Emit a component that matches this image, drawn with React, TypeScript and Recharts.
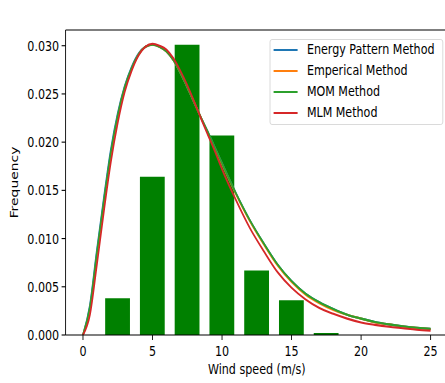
import React from 'react';
import { ComposedChart, Bar, Line, XAxis, YAxis, Legend, ReferenceLine } from 'recharts';

// ---- data ----
const binCenters = [2.5, 5, 7.5, 10, 12.5, 15, 17.5];
const binFreq = [0.0038, 0.0164, 0.0301, 0.0207, 0.0067, 0.0036, 0.0002];

const curveX = [0, 0.5, 1, 1.5, 2, 2.5, 3, 3.5, 4, 4.5, 5, 5.5, 6, 6.5, 7, 7.5, 8, 8.5, 9, 9.5, 10, 11, 12, 13, 14, 15, 16, 17, 18, 19, 20, 21, 22, 23, 24, 25];

const energyPattern = [0, 0.0031, 0.0088, 0.0142, 0.0192, 0.023, 0.0258, 0.0278, 0.0292, 0.0299, 0.0301, 0.0299, 0.0294, 0.0285, 0.0272, 0.0257, 0.0241, 0.0225, 0.021, 0.0194, 0.0178, 0.0147, 0.0119, 0.0095, 0.0073, 0.0056, 0.0043, 0.0034, 0.0027, 0.0021, 0.0017, 0.00135, 0.0011, 0.0009, 0.00075, 0.00063];
const empirical = [0, 0.0027, 0.0082, 0.0136, 0.0186, 0.0226, 0.0256, 0.0276, 0.0291, 0.0299, 0.0301, 0.0299, 0.0294, 0.0285, 0.0272, 0.0257, 0.0241, 0.0225, 0.0209, 0.0193, 0.0177, 0.0146, 0.0118, 0.0094, 0.0072, 0.0055, 0.0042, 0.0033, 0.0026, 0.0021, 0.0017, 0.0013, 0.0011, 0.00088, 0.00074, 0.00062];
const mom = [0, 0.0029, 0.0085, 0.0139, 0.0189, 0.0228, 0.0257, 0.0277, 0.0291, 0.0299, 0.0301, 0.0299, 0.0294, 0.0285, 0.0272, 0.0257, 0.0241, 0.0225, 0.021, 0.0194, 0.0178, 0.0147, 0.0119, 0.0095, 0.0073, 0.0056, 0.0043, 0.0034, 0.0027, 0.0021, 0.0017, 0.00135, 0.0011, 0.0009, 0.00075, 0.00063];
const mlm = [0, 0.0021, 0.0073, 0.0128, 0.0179, 0.022, 0.0252, 0.0274, 0.029, 0.0299, 0.0302, 0.03, 0.0296, 0.0287, 0.0274, 0.0259, 0.0242, 0.0224, 0.0207, 0.019, 0.0172, 0.014, 0.0111, 0.0087, 0.0065, 0.0049, 0.0037, 0.0028, 0.0022, 0.0017, 0.0013, 0.00105, 0.00085, 0.0007, 0.00055, 0.00045];

const seriesNames = ['Energy Pattern Method', 'Emperical Method', 'MOM Method', 'MLM Method'];
const seriesColors = ['#1f77b4', '#ff7f0e', '#2ca02c', '#d62728'];
const seriesValues = [energyPattern, empirical, mom, mlm];

const xTicks = [0, 5, 10, 15, 20, 25];
const yTicks = [0, 0.005, 0.01, 0.015, 0.02, 0.025, 0.03];

const title = 'July 2010';
const xLabel = 'Wind speed (m/s)';
const yLabel = 'Frequency';

// ---- derived tables ----
const barData = binCenters.map((x, i) => ({ x, freq: binFreq[i] }));
const lineData = seriesValues.map((vals) => curveX.map((x, i) => ({ x, y: vals[i] })));

const FONT = '"DejaVu Sans", sans-serif';
const SQUISH = 0.8;
const W = 560;
const H = 383;
const Y_MAX = 0.03163;

const tickStyle = { fill: '#000', fontSize: 13.9, fontFamily: FONT };

const LegendBox = () => (
  <div
    style={{
      width: 217,
      height: 86,
      boxSizing: 'border-box',
      border: '1px solid #d6d6d6',
      borderRadius: 3,
      background: 'rgba(255,255,255,0.85)',
      position: 'relative',
      fontFamily: FONT,
      fontSize: 13.9,
      color: '#000',
    }}
  >
    {seriesNames.map((name, i) => (
      <div
        key={name}
        style={{ position: 'absolute', left: 0, top: 10 + i * 20.9 - 8, height: 16, width: '100%' }}
      >
        <div
          style={{
            position: 'absolute',
            left: 4.4,
            top: 7,
            width: 30,
            height: 2.1,
            background: seriesColors[i],
          }}
        />
        <div style={{ position: 'absolute', left: 46, top: -1, whiteSpace: 'nowrap', lineHeight: '17px' }}>{name}</div>
      </div>
    ))}
  </div>
);

export default function App() {
  return (
    <div
      style={{
        position: 'absolute',
        left: 0,
        top: 0,
        width: 445,
        height: 383,
        overflow: 'hidden',
        background: '#fff',
      }}
    >
      <div style={{ width: W, height: H, transform: `scaleX(${SQUISH})`, transformOrigin: '0 0' }}>
        <ComposedChart
          width={W}
          height={H}
          data={barData}
          margin={{ top: 30, right: 0, bottom: 8, left: 0 }}
          style={{ fontFamily: FONT }}
        >
          <XAxis
            xAxisId="bars"
            dataKey="x"
            type="number"
            domain={[-1.25, 26.25]}
            allowDataOverflow
            hide
          />
          <XAxis
            dataKey="x"
            type="number"
            domain={[-1.25, 26.25]}
            allowDataOverflow
            ticks={xTicks}
            tickFormatter={(v) => String(v)}
            height={40}
            tickSize={5}
            tickMargin={6}
            stroke="#000"
            strokeWidth={1.1}
            tick={tickStyle}
            label={{ value: xLabel, position: 'insideBottom', offset: 0.5, fill: '#000', fontSize: 13.9, fontFamily: FONT }}
          />
          <XAxis
            xAxisId="top"
            orientation="top"
            type="number"
            domain={[-1.25, 26.25]}
            allowDataOverflow
            height={0}
            tick={false}
            tickLine={false}
            axisLine={false}
            label={{ value: title, position: 'top', offset: 7, fill: '#000', fontSize: 16.7, fontFamily: FONT }}
          />
          <YAxis
            type="number"
            domain={[0, Y_MAX]}
            allowDataOverflow
            ticks={yTicks}
            tickFormatter={(v) => Number(v).toFixed(3)}
            width={82}
            tickSize={5}
            tickMargin={3}
            stroke="#000"
            strokeWidth={1.1}
            tick={tickStyle}
            label={{
              value: yLabel,
              angle: -90,
              position: 'insideLeft',
              offset: 17.7,
              fill: '#000',
              fontSize: 13.9,
              fontFamily: FONT,
              style: { textAnchor: 'middle' },
            }}
          />
          <Bar xAxisId="bars" dataKey="freq" fill="#008000" barSize={31} isAnimationActive={false} legendType="none" />
          {seriesNames.map((name, i) => (
            <Line
              key={name}
              data={lineData[i]}
              dataKey="y"
              name={name}
              type="monotone"
              stroke={seriesColors[i]}
              strokeWidth={2.1}
              dot={false}
              activeDot={false}
              isAnimationActive={false}
            />
          ))}
          <ReferenceLine y={Y_MAX} stroke="#000" strokeWidth={1.1} />
          <Legend
            layout="vertical"
            align="center"
            verticalAlign="middle"
            content={() => <LegendBox />}
            wrapperStyle={{ left: 336.6, top: 39.3, width: 217, height: 86 }}
          />
        </ComposedChart>
      </div>
    </div>
  );
}
